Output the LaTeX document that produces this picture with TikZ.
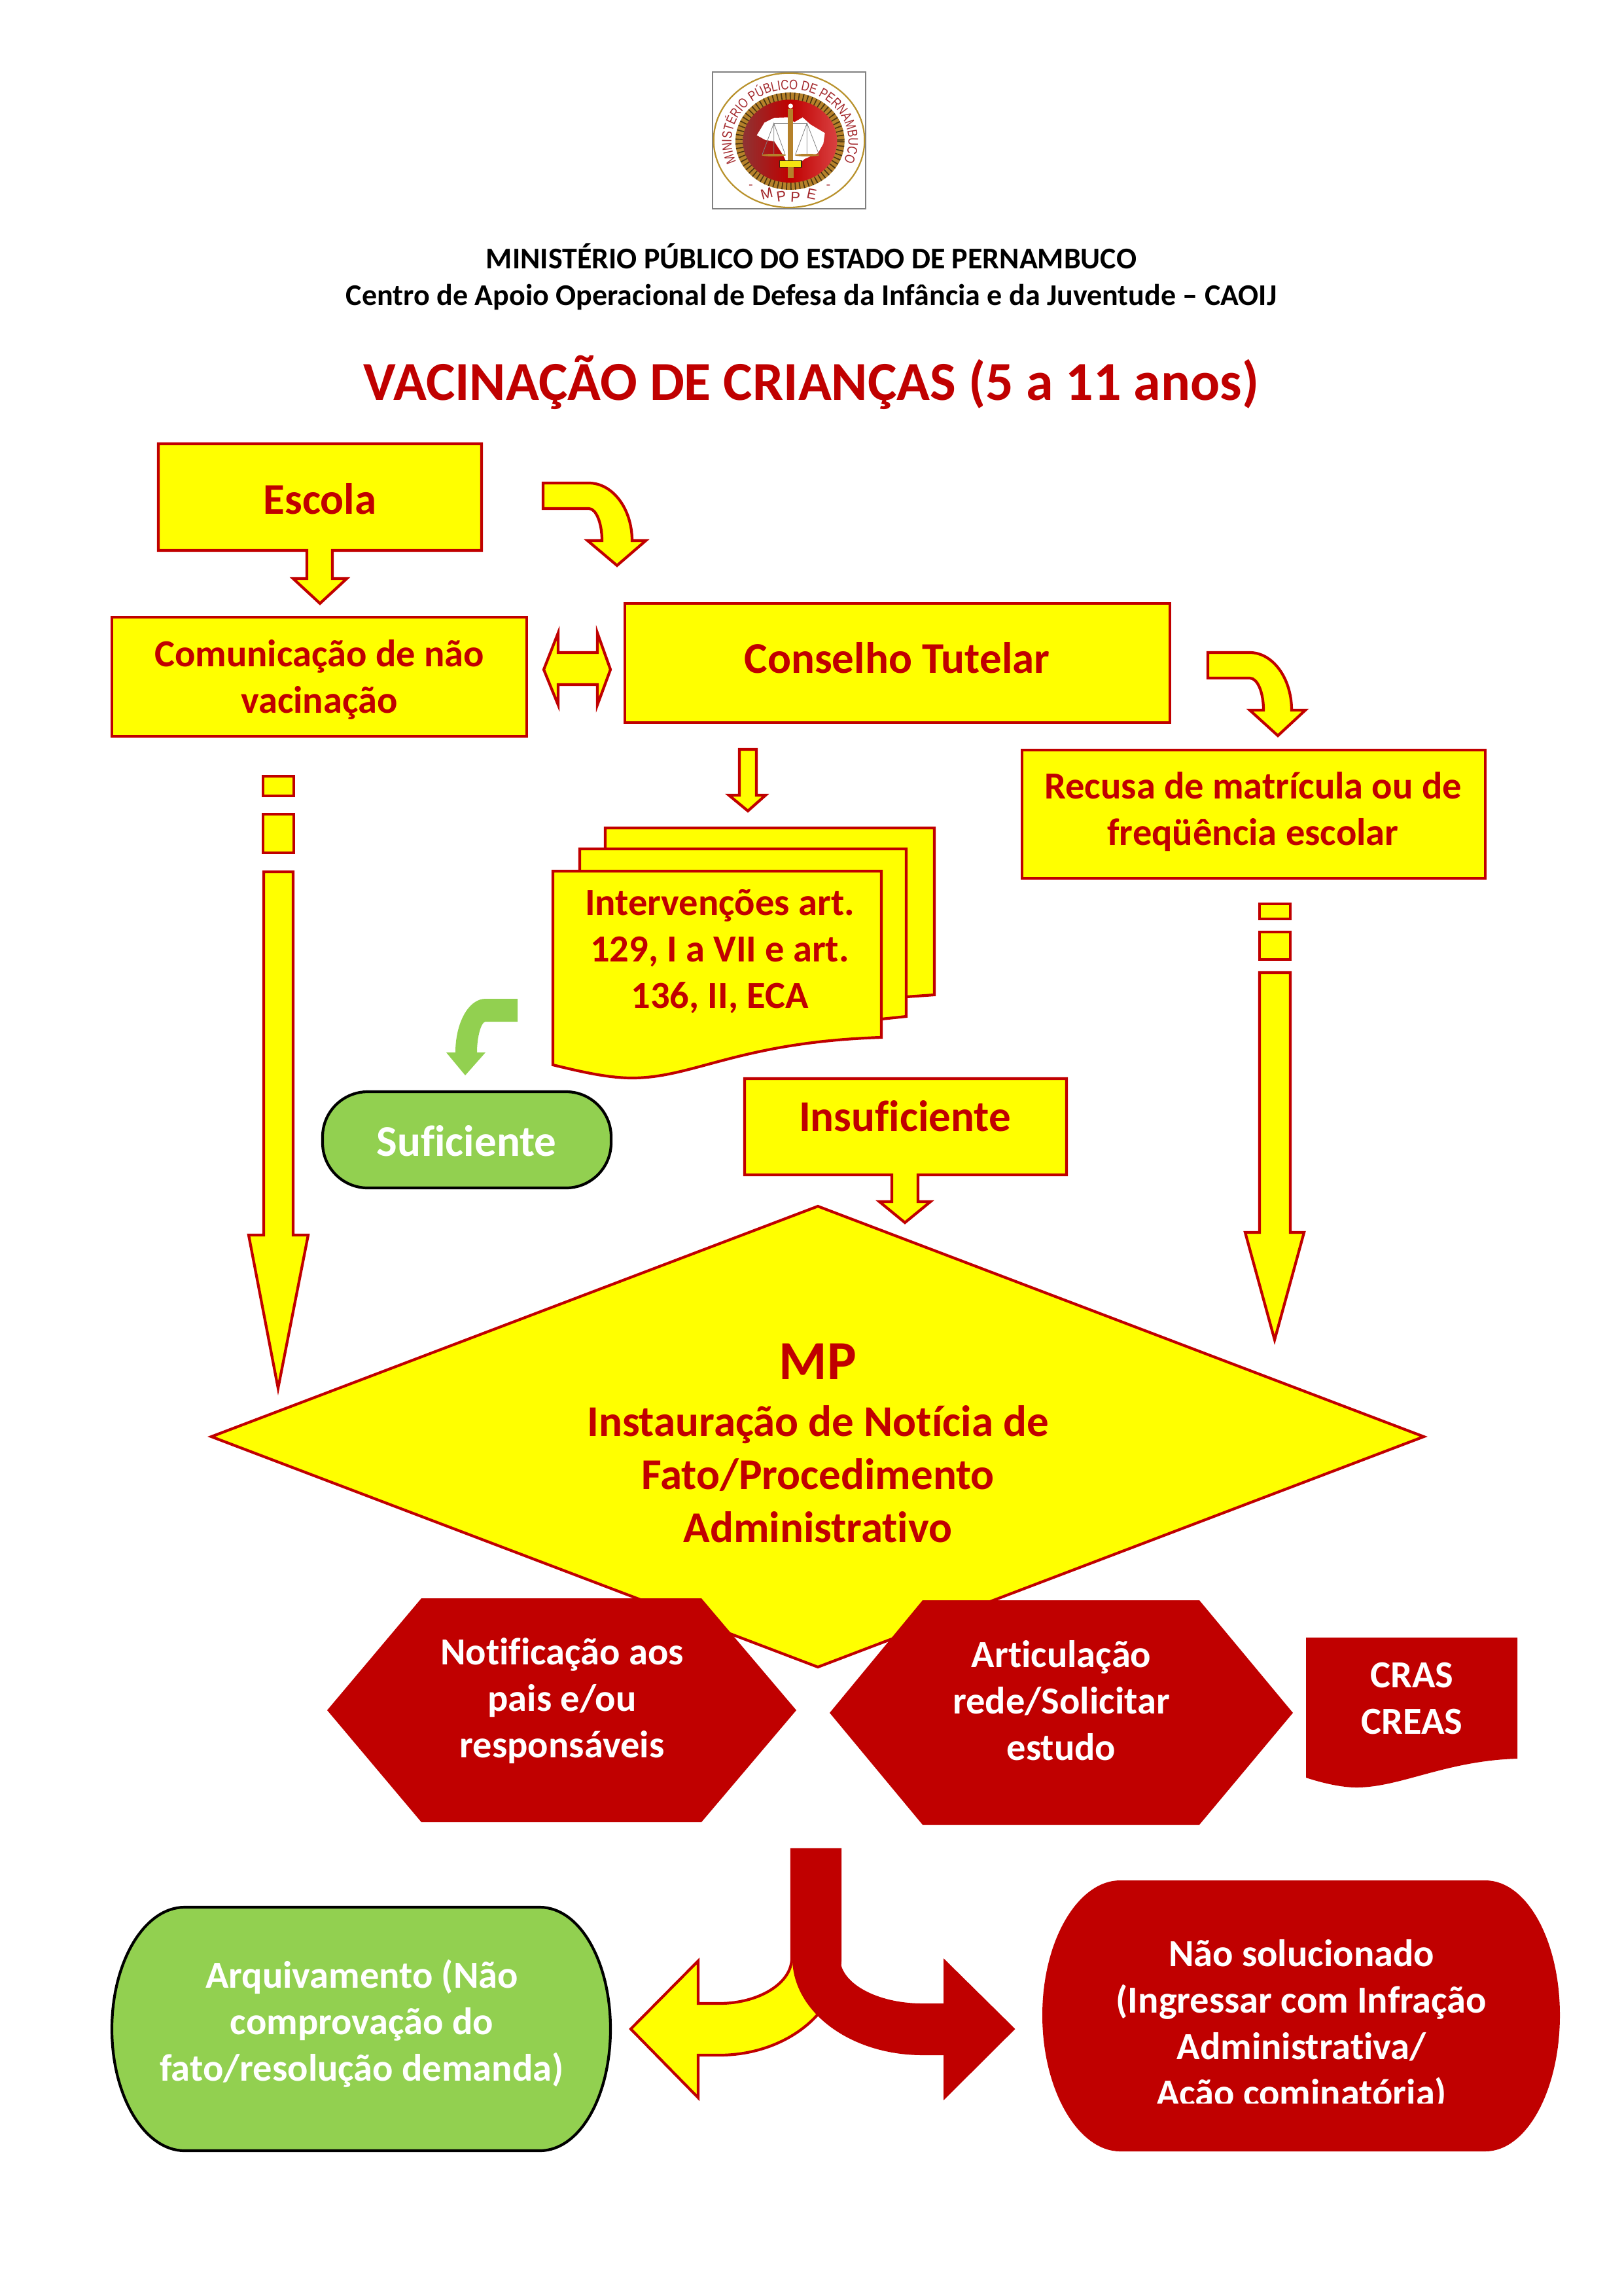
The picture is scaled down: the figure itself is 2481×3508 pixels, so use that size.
\documentclass[tikz,border=0pt]{standalone}
\usepackage{fontspec}
\setmainfont[Ligatures=CommonOff]{Carlito}
\newfontfamily\logofont{Liberation Sans}
\newfontfamily\logonarrow[FakeStretch=0.8]{Liberation Sans}
\usetikzlibrary{decorations.text}
\definecolor{myred}{HTML}{C00000}
\definecolor{myyellow}{HTML}{FFFF00}
\definecolor{mygreen}{HTML}{92D050}
\definecolor{logored}{HTML}{A3282C}
\definecolor{loggold}{HTML}{B8912B}
\definecolor{rope}{HTML}{B5812A}
\newcommand{\lns}[1]{\begin{tabular}[t]{@{}c@{}}#1\end{tabular}}
\tikzset{
  yshape/.style={draw=myred,fill=myyellow,line width=4.2pt,line join=miter},
  rshape/.style={fill=myred},
  gshape/.style={draw=black,fill=mygreen,line width=4.2pt},
  lbl/.style={inner sep=0pt,anchor=base,yshift=-2pt,text=myred,font=\fontsize{58.5}{71}\selectfont\bfseries},
  lblb/.style={lbl,font=\fontsize{67}{81}\selectfont\bfseries},
  wlbl/.style={lbl,text=white},
}
\begin{document}
\begin{tikzpicture}[x=1pt,y=-1pt]
\useasboundingbox (0,0) rectangle (2481,3508);
% ---------- logo ----------
\begin{scope}[shift={(1050,90)},x=0.33333pt,y=-0.33333pt]
  \draw[color=gray,fill=white,line width=2.2pt] (117,60) rectangle (820,687);
  \draw[loggold,line width=2.2pt] (468,373) ellipse [x radius=346,y radius=308];
  \draw[rope,line width=12pt] (472,377) ellipse [x radius=232,y radius=205];
  \draw[black!60!rope,line width=12pt,dash pattern=on 1.6pt off 5pt] (472,377) ellipse [x radius=232,y radius=205];
  \path[left color=black!55!red!80,right color=red!70!white!85!black,middle color=myred] (472,377) ellipse [x radius=216,y radius=190];
  \fill[white] (320,350) -- (355,292) -- (400,270) -- (460,268) -- (492,290) -- (530,268) -- (565,300) -- (632,340) -- (625,388) -- (600,432) -- (540,458) -- (500,490) -- (470,500) -- (440,440) -- (400,378) -- (360,372) -- cycle;
  \draw[gray,line width=.8pt] (398,295) -- (550,295);
  \draw[gray,line width=.8pt] (345,438) -- (398,295) -- (450,438) (398,295) -- (398,438);
  \draw[gray,line width=.8pt] (497,438) -- (550,295) -- (605,438) (550,295) -- (550,438);
  \fill[rope] (398,441) ellipse [x radius=56,y radius=6];
  \fill[rope] (550,441) ellipse [x radius=56,y radius=6];
  \fill[rope] (463,228) rectangle (487,470);
  \fill[white] (475,216) circle [radius=11];
  \draw[black!70!rope,fill=yellow!85!rope,line width=1.2pt] (425,466) -- (525,466) -- (525,496) -- (425,496) -- cycle;
  \fill[rope] (462,496) rectangle (488,545);
  \path[decorate,decoration={text along path,text align=center,
     text={|\logonarrow\fontsize{21}{21}\selectfont\color{logored}|MINISTÉRIO PÚBLICO DE PERNAMBUCO}}]
     (300,558.5) .. controls (239,513.5) and (204,447) .. (204,377) .. controls (204,246) and (324,140) .. (472,140) .. controls (620,140) and (740,246) .. (740,377) .. controls (740,447) and (705,513.5) .. (644,558.5);
  \node[inner sep=0pt,text=logored,font=\logofont\fontsize{20}{20}\selectfont] (lgA) at (292,587) {-};
  \node[inner sep=0pt,text=logored,font=\logofont\fontsize{22}{22}\selectfont,rotate=15] (lgM) at (365,617) {M};
  \node[inner sep=0pt,text=logored,font=\logofont\fontsize{22}{22}\selectfont,rotate=8] (lgP) at (432,630) {P};
  \node[inner sep=0pt,text=logored,font=\logofont\fontsize{22}{22}\selectfont,rotate=-3] (lgQ) at (497,634) {P};
  \node[inner sep=0pt,text=logored,font=\logofont\fontsize{22}{22}\selectfont,rotate=-12] (lgE) at (572,620) {E};
  \node[inner sep=0pt,text=logored,font=\logofont\fontsize{20}{20}\selectfont] (lgB) at (648,587) {-};
\end{scope}
% ---------- headings ----------
\node[lbl,text=black,font=\fontsize{46}{56}\selectfont\bfseries] (h1) at (1240,408) {MINISTÉRIO PÚBLICO DO ESTADO DE PERNAMBUCO};
\node[lbl,text=black,font=\fontsize{46}{56}\selectfont\bfseries] (h2) at (1240,464) {Centro de Apoio Operacional de Defesa da Infância e da Juventude – CAOIJ};
\node[lbl,font=\fontsize{84}{100}\selectfont\bfseries] (title) at (1240,609) {VACINAÇÃO DE CRIANÇAS (5 a 11 anos)};
% ---------- Escola ----------
\draw[yshape] (242,678) -- (736,678) -- (736,841) -- (508,841) -- (508,884) -- (530,884) -- (489,922) -- (448,884) -- (469,884) -- (469,841) -- (242,841) -- cycle;
\node[lblb] (escola) at (489,783) {Escola};
% curved arrow 1
\draw[yshape] (830,738) -- (900,738) .. controls (936,738) and (966,777) .. (966,826) -- (987,826) -- (943,864) -- (898,826) -- (920,826) .. controls (920,799) and (911,777) .. (900,777) -- (830,777) -- cycle;
% Comunicacao
\draw[yshape] (171,943) rectangle (805,1125);
\node[lbl] (comun) at (488,1016) {\lns{Comunicação de não\\vacinação}};
% double arrow
\draw[yshape] (831,1023) -- (853,967) -- (853,997) -- (913,997) -- (913,967) -- (933,1023) -- (913,1077) -- (913,1046) -- (853,1046) -- (853,1077) -- cycle;
% Conselho
\draw[yshape] (955,922) rectangle (1788,1104);
\node[lblb] (conselho) at (1371,1026) {Conselho Tutelar};
% curved arrow 2
\draw[yshape] (1846,997) -- (1910,997) .. controls (1945,997) and (1974,1036) .. (1974,1085) -- (1995,1085) -- (1953,1124) -- (1910,1085) -- (1931,1085) .. controls (1931,1058) and (1922,1036) .. (1910,1036) -- (1846,1036) -- cycle;
% Recusa
\draw[yshape] (1562,1146) rectangle (2270,1342);
\node[lbl] (recusa) at (1915,1218) {\lns{Recusa de matrícula ou de\\freqüência escolar}};
% down arrow centre
\draw[yshape] (1130,1145) -- (1156,1145) -- (1156,1215) -- (1170,1215) -- (1143,1239) -- (1114,1215) -- (1130,1215) -- cycle;
% documents
\draw[yshape] (925,1265) -- (1428,1265) -- (1428,1520) -- (1385,1523) -- (925,1523) -- cycle;
\draw[yshape] (886,1297) -- (1385,1297) -- (1385,1553) -- (1347,1557) -- (886,1557) -- cycle;
\draw[yshape] (845,1331) -- (1347,1331) -- (1347,1585) .. controls (1130,1592) and (1060,1647) .. (966,1647) .. controls (930,1647) and (890,1638) .. (845,1627) -- cycle;
\node[lbl] (interv) at (1100,1396) {\lns{Intervenções art.\\129, I a VII e art.\\136, II, ECA}};
% left dashed arrow
\draw[yshape] (402,1186) rectangle (449,1216);
\draw[yshape] (402,1244) rectangle (449,1303);
\draw[yshape] (403,1332) -- (448,1332) -- (448,1887) -- (471,1887) -- (425,2121) -- (380,1887) -- (403,1887) -- cycle;
% green arrow
\fill[mygreen] (791,1526) -- (742,1526) .. controls (716,1526) and (696,1563) .. (696,1608) -- (682,1608) -- (711,1643) -- (742,1608) -- (729,1608) .. controls (729,1582) and (736,1561) .. (742,1561) -- (791,1561) -- cycle;
% Suficiente
\draw[gshape,rounded corners=69pt] (493,1668) rectangle (934,1815);
\node[lblb,text=white] (suf) at (713,1764) {Suficiente};
% right dashed arrow
\draw[yshape] (1925,1381) rectangle (1972,1404);
\draw[yshape] (1925,1424) rectangle (1972,1466);
\draw[yshape] (1925,1486) -- (1972,1486) -- (1972,1883) -- (1993,1883) -- (1948,2047) -- (1903,1883) -- (1925,1883) -- cycle;
% diamond
\draw[yshape] (1250,1843) -- (2176,2195) -- (1250,2547) -- (323,2195) -- cycle;
\node[lbl,font=\fontsize{84}{100}\selectfont\bfseries] (mp) at (1250,2105) {MP};
\node[lblb] (inst) at (1250,2192) {\lns{Instauração de Notícia de\\Fato/Procedimento\\Administrativo}};
% Insuficiente
\draw[yshape] (1138,1648) -- (1630,1648) -- (1630,1795) -- (1403,1795) -- (1403,1836) -- (1422,1836) -- (1383,1868) -- (1344,1836) -- (1363,1836) -- (1363,1795) -- (1138,1795) -- cycle;
\node[lblb] (insuf) at (1383,1726) {Insuficiente};
% hexagons
\fill[rshape] (500,2613) -- (644,2442) -- (1072,2442) -- (1217,2613) -- (1072,2784) -- (644,2784) -- cycle;
\node[wlbl] (notif) at (859,2541) {\lns{Notificação aos\\pais e/ou\\responsáveis}};
\fill[rshape] (1268,2617) -- (1410,2445) -- (1833,2445) -- (1976,2617) -- (1833,2788) -- (1410,2788) -- cycle;
\node[wlbl] (artic) at (1622,2545) {\lns{Articulação\\rede/Solicitar\\estudo}};
% CRAS
\fill[rshape] (1996,2502) -- (2319,2502) -- (2319,2687) .. controls (2210,2690) and (2140,2731) .. (2073,2731) .. controls (2050,2731) and (2020,2724) .. (1996,2716) -- cycle;
\node[wlbl] (cras) at (2158,2576) {\lns{CRAS\\CREAS}};
% bottom arrows
\draw[yshape] (964,3100) -- (1067,2996) -- (1067,3061) -- (1099,3061) .. controls (1160,3061) and (1210,3030) .. (1210,2992) -- (1210,2826) -- (1284,2826) -- (1284,2992) .. controls (1284,3074) and (1201,3140) .. (1099,3140) -- (1067,3140) -- (1067,3205) -- cycle;
\fill[rshape] (1211,2825) -- (1284,2825) -- (1284,2992) .. controls (1284,3030) and (1340,3061) .. (1410,3061) -- (1442,3061) -- (1442,2992) -- (1551.5,3100) -- (1442,3209) -- (1442,3140) -- (1410,3140) .. controls (1300,3140) and (1211,3074) .. (1211,2992) -- cycle;
% Arquivamento
\draw[gshape] (282,2914) -- (825,2914) .. controls (886,2914) and (933,2997) .. (933,3100) .. controls (933,3203) and (886,3286) .. (825,3286) -- (282,3286) .. controls (221,3286) and (171,3203) .. (171,3100) .. controls (171,2997) and (221,2914) .. (282,2914) -- cycle;
\node[wlbl] (arq) at (553,3035) {\lns{Arquivamento (Não\\comprovação do\\fato/resolução demanda)}};
% Nao solucionado
\fill[rshape] (1712,2873) -- (2270,2873) .. controls (2333,2873) and (2384,2964) .. (2384,3079) .. controls (2384,3194) and (2333,3287) .. (2270,3287) -- (1712,3287) .. controls (1648,3287) and (1593,3194) .. (1593,3079) .. controls (1593,2964) and (1648,2873) .. (1712,2873) -- cycle;
\begin{scope}
  \clip (1595,2872) rectangle (2384,3213);
  \node[wlbl] (nao) at (1989,3002) {\lns{Não solucionado\\(Ingressar com Infração\\Administrativa/\\Ação cominatória)}};
\end{scope}
\end{tikzpicture}
\end{document}
